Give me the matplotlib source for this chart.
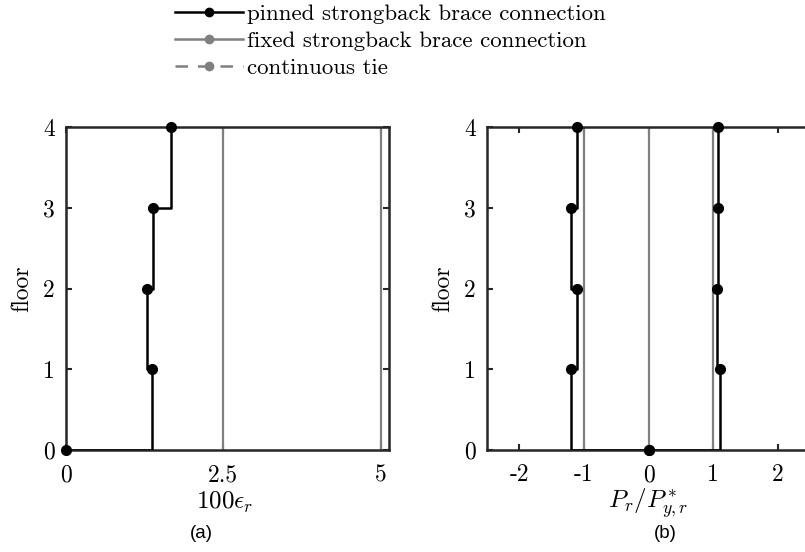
import numpy as np
import matplotlib
matplotlib.use("Agg")
import matplotlib.pyplot as plt
from matplotlib.lines import Line2D

# ---------------- data ----------------
floors = [0, 1, 2, 3, 4]
strain_pinned = [1.37, 1.29, 1.38, 1.66]          # 100*eps_r per story (pinned)
strain_gray_lines = [2.5, 5.0]                     # gray reference lines (a)
force_pinned_neg = [-1.20, -1.10, -1.20, -1.10]    # Pr/Py* compression side
force_pinned_pos = [1.10, 1.065, 1.07, 1.07]       # Pr/Py* tension side
force_gray_lines = [-1.0, 0.0, 1.0]                # gray reference lines (b)

xticks_a = [0, 2.5, 5]
xticklabels_a = ["0", "2.5", "5"]
xticks_b = [-2, -1, 0, 1, 2]
xticklabels_b = ["-2", "-1", "0", "1", "2"]
yticks = [0, 1, 2, 3, 4]
yticklabels = ["0", "1", "2", "3", "4"]

legend_labels = ["pinned strongback brace connection",
                 "fixed strongback brace connection",
                 "continuous tie"]

# ---------------- style ----------------
plt.rcParams["mathtext.fontset"] = "cm"
plt.rcParams["axes.unicode_minus"] = False
SERIF = "cmr10"
BLACK = "#000000"
GRAY = "#808080"
SPINE = "#262626"
W, H = 805, 552
FS = 17

fig = plt.figure(figsize=(W / 100, H / 100), dpi=100)


def stairs(values):
    xs, ys = [0.0], [floors[0]]
    for i, v in enumerate(values):
        xs += [v, v]
        ys += [floors[i], floors[i + 1]]
    return np.array(xs), np.array(ys)


def style_axes(ax, xticks, xlabels, right=True):
    ax.set_ylim(0, 4)
    ax.set_yticks(yticks)
    ax.set_yticklabels(yticklabels, fontfamily=SERIF, fontsize=FS)
    ax.set_xticks(xticks)
    ax.set_xticklabels(xlabels, fontfamily=SERIF, fontsize=FS)
    ax.tick_params(direction="in", top=True, right=right, length=4,
                   width=1.5, color=SPINE)
    ax.tick_params(axis="x", pad=10)
    ax.tick_params(axis="y", pad=8)
    for s in ax.spines.values():
        s.set_linewidth(1.8)
        s.set_color(SPINE)
    ax.set_ylabel("floor", fontfamily=SERIF, fontsize=FS)
    ax.yaxis.label.set_va("center")
    ax.yaxis.set_label_coords(-44 / 323, 0.5)


def px_axes(left, right, top, bottom):
    return fig.add_axes([left / W, 1 - bottom / H, (right - left) / W, (bottom - top) / H])


# (a)
ax1 = px_axes(66, 389, 127, 450)
for xv in strain_gray_lines:
    ax1.plot([xv, xv], [floors[0], floors[-1]], color=GRAY, lw=1.6, zorder=2)
xs, ys = stairs(strain_pinned)
ax1.plot(xs, ys, color=BLACK, lw=1.8, zorder=3)
ax1.plot([0] + strain_pinned, floors, ls="none", marker="o", ms=7,
         color=BLACK, zorder=4, clip_on=False)
ax1.set_xlim(0, 5.13)
style_axes(ax1, xticks_a, xticklabels_a)
ax1.set_xlabel(r"$100\epsilon_r$", fontsize=FS + 1)
ax1.xaxis.label.set_va("center")
ax1.xaxis.set_label_coords(0.49, -(502 - 450) / 323)

# (b)
ax2 = px_axes(487, 810, 127, 450)
for xv in force_gray_lines:
    ax2.plot([xv, xv], [floors[0], floors[-1]], color=GRAY, lw=1.6, zorder=2)
for series in (force_pinned_neg, force_pinned_pos):
    xs, ys = stairs(series)
    ax2.plot(xs, ys, color=BLACK, lw=1.8, zorder=3)
    ax2.plot([0] + series, floors, ls="none", marker="o", ms=7,
             color=BLACK, zorder=4, clip_on=False)
ax2.set_xlim(-2.5, 2.5)
style_axes(ax2, xticks_b, xticklabels_b, right=False)
ax2.set_xlabel(r"$P_r/P^*_{y,r}$", fontsize=FS + 1)
ax2.xaxis.label.set_va("center")
ax2.xaxis.set_label_coords(0.5, -(503 - 450) / 323)

fig.text(201 / W, 1 - 533 / H, "(a)", ha="center", va="center",
         fontfamily="Liberation Sans", fontsize=13.5)
fig.text(665 / W, 1 - 533 / H, "(b)", ha="center", va="center",
         fontfamily="Liberation Sans", fontsize=13.5)

# legend (MATLAB style: marker centred on the handle line)
handles = [
    Line2D([], [], color=BLACK, lw=1.8, marker="o", ms=6),
    Line2D([], [], color=GRAY, lw=1.8, marker="o", ms=6),
    Line2D([], [], color=GRAY, lw=1.8, ls=(0, (5, 4)), marker="o", ms=6),
]
leg = fig.legend(handles, legend_labels, loc="upper left",
                 bbox_to_anchor=(175 / W, 1 - 4 / H), frameon=False,
                 prop={"family": SERIF, "size": 16.5}, handlelength=2.95,
                 handletextpad=0.2, labelspacing=0.3, borderpad=0,
                 borderaxespad=0)

fig.savefig("out.png", dpi=100)
